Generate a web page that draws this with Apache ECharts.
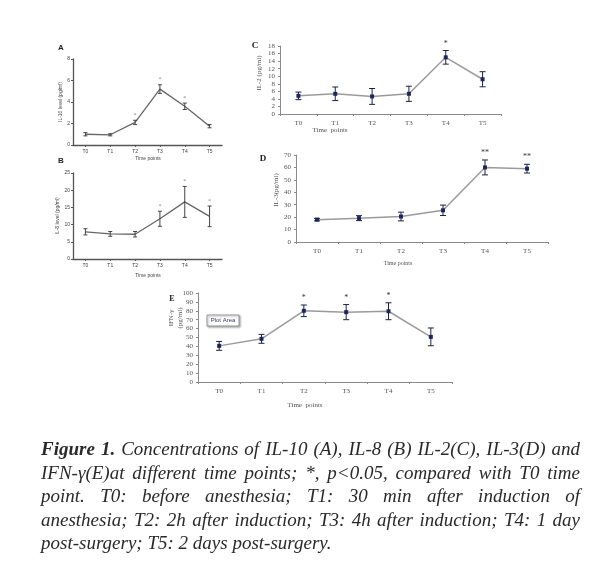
<!DOCTYPE html>
<html><head><meta charset="utf-8">
<script src="https://cdn.jsdelivr.net/npm/echarts@6/dist/echarts.min.js"></script>
<style>html,body{margin:0;padding:0;background:#fff}#c{width:600px;height:570px}</style>
</head><body><div id="c"></div>
<script>
// ---------- DATA ----------
const categories = ['T0', 'T1', 'T2', 'T3', 'T4', 'T5'];

const il10Mean = [1.0, 0.95, 2.1, 5.2, 3.6, 1.75];
const il10Err  = [0.15, 0.1, 0.2, 0.4, 0.3, 0.15];
const il10Star = ['', '', '*', '*', '*', ''];
const il10Ticks = [0, 8, 2];

const il8Mean = [7.9, 7.3, 7.2, 11.7, 16.6, 12.4];
const il8Err  = [0.9, 0.7, 0.8, 2.2, 4.5, 3.0];
const il8Star = ['', '', '', '*', '*', '*'];
const il8Ticks = [0, 25, 5];

const il2Mean = [4.8, 5.35, 4.65, 5.35, 15.0, 9.2];
const il2Err  = [1.0, 1.8, 2.1, 2.0, 1.8, 2.0];
const il2Star = ['', '', '', '', '*', ''];
const il2Ticks = [0, 18, 2];

const il3Mean = [18, 19.2, 20.5, 25.5, 60, 59];
const il3Err  = [1.0, 2.0, 3.5, 4.2, 6.0, 3.5];
const il3Star = ['', '', '', '', '**', '**'];
const il3Ticks = [0, 70, 10];

const ifnMean = [40.6, 48.5, 80, 78.5, 79.5, 50.7];
const ifnErr  = [5, 5, 6.5, 8.5, 9.5, 10];
const ifnStar = ['', '', '*', '*', '*', ''];
const ifnTicks = [0, 100, 10];

const captionLines = [
  'Figure 1. Concentrations of IL-10 (A), IL-8 (B) IL-2(C), IL-3(D) and',
  'IFN-\u03b3(E)at different time points; *, p<0.05, compared with T0 time',
  'point. T0: before anesthesia; T1: 30 min after induction of',
  'anesthesia; T2: 2h after induction; T3: 4h after induction; T4: 1 day',
  'post-surgery; T5: 2 days post-surgery.'
];

// ---------- STYLE ----------
const SANS = '"Liberation Sans", Arial, sans-serif';
const SERIF = '"Liberation Serif", "Times New Roman", serif';

const panels = [
  {mean: il10Mean, err: il10Err, star: il10Star, ticks: il10Ticks, grid: {left: 73, top: 59, width: 149, height: 86}, kind: 'ab', yName: 'IL-10 level (pg/ml)'},
  {mean: il8Mean, err: il8Err, star: il8Star, ticks: il8Ticks, grid: {left: 73, top: 173, width: 149, height: 86}, kind: 'ab', yName: 'IL-8 level (pg/ml)'},
  {mean: il2Mean, err: il2Err, star: il2Star, ticks: il2Ticks, grid: {left: 280, top: 46, width: 221, height: 68}, kind: 'cde'},
  {mean: il3Mean, err: il3Err, star: il3Star, ticks: il3Ticks, grid: {left: 296, top: 155, width: 252, height: 87}, kind: 'cde'},
  {mean: ifnMean, err: ifnErr, star: ifnStar, ticks: ifnTicks, grid: {left: 198, top: 293, width: 254, height: 89}, kind: 'cde'}
];

const grids = [], xAxes = [], yAxes = [], series = [];
panels.forEach((p, i) => {
  const ab = p.kind === 'ab';
  grids.push(Object.assign({containLabel: false}, p.grid));
  const axisColor = ab ? '#555' : '#8a8a8a';
  const lblFont = ab ? {fontSize: 5, fontFamily: SANS, color: '#444'} : {fontSize: 7, fontFamily: SERIF, color: '#555'};
  xAxes.push({
    type: 'category', gridIndex: i, data: categories, boundaryGap: true,
    axisLine: {lineStyle: {color: axisColor, width: ab ? 1.3 : 1}},
    axisTick: {show: true, alignWithLabel: ab, length: 2, lineStyle: {color: axisColor}},
    axisLabel: Object.assign({margin: ab ? 4 : 6}, lblFont),
    splitLine: {show: false}
  });
  yAxes.push({
    type: 'value', gridIndex: i, min: p.ticks[0], max: p.ticks[1], interval: p.ticks[2],
    axisLine: {show: true, lineStyle: {color: axisColor, width: ab ? 1.3 : 1}},
    axisTick: {show: true, length: 2, lineStyle: {color: axisColor}},
    axisLabel: Object.assign({margin: ab ? 3 : 5}, lblFont),
    splitLine: {show: false},
    name: ab ? p.yName : '', nameLocation: 'middle', nameGap: 8, nameRotate: 90,
    nameTextStyle: {fontSize: 5, fontFamily: SANS, color: '#444'}
  });
  // line
  series.push({
    type: 'line', xAxisIndex: i, yAxisIndex: i, data: p.mean,
    symbol: ab ? 'none' : 'rect', symbolSize: 4,
    itemStyle: {color: '#1c2a6e'},
    lineStyle: {color: ab ? '#666' : '#9a9a9a', width: ab ? 1.3 : 1.5},
    z: 2, silent: true, animation: false
  });
  // error bars + stars
  const ebColor = ab ? '#444' : '#1e2240';
  const cap = ab ? 2 : 3;
  series.push({
    type: 'custom', xAxisIndex: i, yAxisIndex: i,
    data: p.mean.map((m, k) => [k, m - p.err[k], m + p.err[k]]),
    encode: {x: 0, y: [1, 2]},
    renderItem: (params, api) => {
      const k = api.value(0);
      const lo = api.coord([k, api.value(1)]);
      const hi = api.coord([k, api.value(2)]);
      const st = {stroke: ebColor, lineWidth: 1};
      const children = [
        {type: 'line', shape: {x1: lo[0], y1: lo[1], x2: hi[0], y2: hi[1]}, style: st},
        {type: 'line', shape: {x1: lo[0] - cap, y1: lo[1], x2: lo[0] + cap, y2: lo[1]}, style: st},
        {type: 'line', shape: {x1: hi[0] - cap, y1: hi[1], x2: hi[0] + cap, y2: hi[1]}, style: st}
      ];
      const s = p.star[k];
      if (s) {
        children.push({type: 'text', x: hi[0], y: hi[1] - (ab ? 2 : 3), style: {
          text: s, align: 'center', verticalAlign: 'bottom',
          fontSize: ab ? 6 : 8, fontFamily: SERIF, fill: ab ? '#888' : '#333'}});
      }
      return {type: 'group', children};
    },
    z: 3, silent: true, animation: false
  });
});

// ---------- GRAPHIC TEXT ----------
const graphic = [];
function txt(x, y, text, style, rot) {
  graphic.push({type: 'text', x, y, rotation: rot || 0, silent: true,
    style: Object.assign({text, align: 'center', verticalAlign: 'middle'}, style)});
}
const sansSmall = {fontSize: 5, fontFamily: SANS, fill: '#444'};
const serifSmall = {fontSize: 7, fontFamily: SERIF, fill: '#555'};
txt(61, 48, 'A', {fontSize: 8, fontWeight: 'bold', fontFamily: SANS, fill: '#222'});
txt(61, 161, 'B', {fontSize: 8, fontWeight: 'bold', fontFamily: SANS, fill: '#222'});
txt(148, 159, 'Time points', sansSmall);
txt(148, 276, 'Time points', sansSmall);
txt(255, 46, 'C', {fontSize: 9, fontWeight: 'bold', fontFamily: SERIF, fill: '#222'});
txt(263, 159, 'D', {fontSize: 9, fontWeight: 'bold', fontFamily: SERIF, fill: '#222'});
txt(172, 299, 'E', {fontSize: 8, fontWeight: 'bold', fontFamily: SERIF, fill: '#222'});
txt(259, 73, 'IL-2 (pg/ml)', serifSmall, Math.PI / 2);
txt(276, 190, 'IL-3(pg/ml)', serifSmall, Math.PI / 2);
txt(171, 318, 'IFN-\u03b3', serifSmall, Math.PI / 2);
txt(180, 318, '(pg/ml)', serifSmall, Math.PI / 2);
txt(330, 130, 'Time  points', serifSmall);
txt(398, 263, 'Time points', {fontSize: 6, fontFamily: SERIF, fill: '#555'});
txt(305, 405, 'Time  points', serifSmall);
// "Plot Area" tag
graphic.push({type: 'rect', shape: {x: 207, y: 315, width: 32, height: 11}, silent: true,
  style: {fill: '#fff', stroke: '#9a9a9a', lineWidth: 1, shadowBlur: 2, shadowColor: 'rgba(0,0,0,0.35)', shadowOffsetX: 1, shadowOffsetY: 1}});
txt(223, 320.5, 'Plot Area', {fontSize: 6, fontFamily: SANS, fill: '#2f3b6b'});

// ---------- CAPTION (justified) ----------
const capLeft = 41, capRight = 580, capTop = 450, capStep = 23.5, capSize = 19;
const mctx = document.createElement('canvas').getContext('2d');
function wWidth(word, bold) {
  mctx.font = 'italic ' + (bold ? 'bold ' : '') + capSize + 'px ' + SERIF;
  return mctx.measureText(word).width;
}
captionLines.forEach((line, li) => {
  const words = line.split(' ');
  const bolds = words.map((w, wi) => li === 0 && wi < 2);
  const widths = words.map((w, wi) => wWidth(w, bolds[wi]));
  const total = widths.reduce((a, b) => a + b, 0);
  const justify = li < captionLines.length - 1;
  const gap = justify ? (capRight - capLeft - total) / (words.length - 1) : wWidth(' ', false);
  let x = capLeft;
  words.forEach((w, wi) => {
    graphic.push({type: 'text', x, y: capTop + li * capStep, silent: true,
      style: {text: w, align: 'left', verticalAlign: 'middle', fontSize: capSize,
        fontStyle: 'italic', fontWeight: bolds[wi] ? 'bold' : 'normal',
        fontFamily: SERIF, fill: '#2a2a2a'}});
    x += widths[wi] + gap;
  });
});

const chart = echarts.init(document.getElementById('c'), null, {renderer: 'canvas'});
chart.setOption({
  animation: false,
  backgroundColor: '#fff',
  grid: grids, xAxis: xAxes, yAxis: yAxes, series, graphic
});
</script></body></html>
